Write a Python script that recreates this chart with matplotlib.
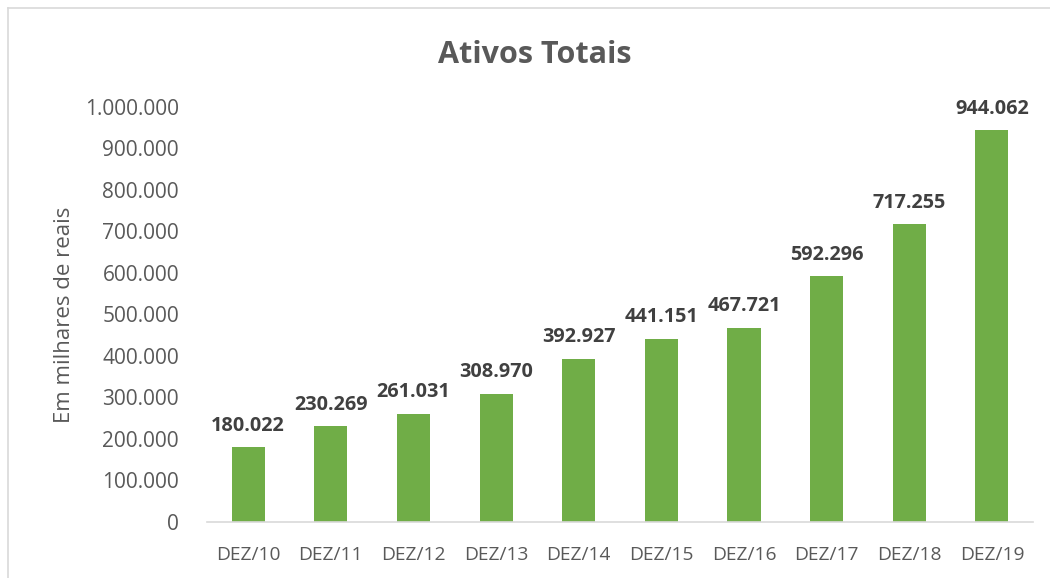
import matplotlib
matplotlib.use("Agg")
import matplotlib.pyplot as plt
from matplotlib.lines import Line2D

categories = ["DEZ/10", "DEZ/11", "DEZ/12", "DEZ/13", "DEZ/14", "DEZ/15", "DEZ/16", "DEZ/17", "DEZ/18", "DEZ/19"]
values = [180022, 230269, 261031, 308970, 392927, 441151, 467721, 592296, 717255, 944062]
yticks = [0, 100000, 200000, 300000, 400000, 500000, 600000, 700000, 800000, 900000, 1000000]

def fmt(v):
    return f"{v:,}".replace(",", ".")

plt.rcParams['font.family'] = ['Open Sans', 'DejaVu Sans']
gray = "#595959"

fig = plt.figure(figsize=(10.5, 5.78), dpi=100)
ax = fig.add_axes([0.197, 0.097, 0.787, 0.718])
x = list(range(len(categories)))
ax.bar(x, values, width=0.4, color="#70AD47", zorder=2)
for xi, v in zip(x, values):
    ax.text(xi, v + 28000, fmt(v), ha="center", va="bottom", fontsize=14.3, fontweight="bold", color="#404040")
ax.set_xlim(-0.5, len(categories) - 0.5)
ax.set_ylim(0, 1000000)
ax.set_yticks(yticks)
ax.set_yticklabels([fmt(t) if t else "0" for t in yticks], fontsize=15, color=gray)
ax.set_xticks(x)
ax.set_xticklabels(categories, fontsize=13.8, color=gray)
ax.tick_params(axis="y", length=0, pad=20)
ax.tick_params(axis="x", length=0, pad=17)
for s in ["top", "right", "left"]:
    ax.spines[s].set_visible(False)
ax.spines["bottom"].set_color("#D9D9D9")
ax.spines["bottom"].set_linewidth(1.2)
ax.set_ylabel("Em milhares de reais", fontsize=16, color=gray)
ax.yaxis.set_label_coords(-0.16, 0.5)
fig.text(0.509, 0.905, "Ativos Totais", ha="center", va="center", fontsize=22, fontweight="bold", color=gray)

# chart border (top and left visible)
fig.add_artist(Line2D([8/1050, 1], [1 - 8/578, 1 - 8/578], transform=fig.transFigure, color="#D9D9D9", lw=1.2))
fig.add_artist(Line2D([8/1050, 8/1050], [0, 1 - 8/578], transform=fig.transFigure, color="#D9D9D9", lw=1.2))

fig.savefig("out.png", dpi=100)
